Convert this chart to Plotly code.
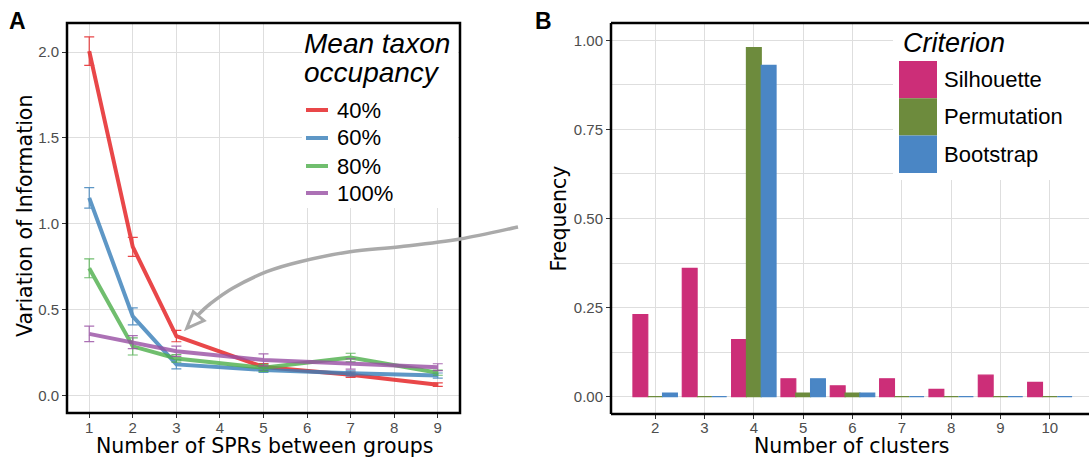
import plotly.graph_objects as go

W, H = 1089, 458

# ---------------- Panel A data ----------------
spr = [1, 2, 3, 5, 7, 9]
occupancy = ["40%", "60%", "80%", "100%"]
vi_40 = [2.005, 0.865, 0.345, 0.165, 0.12, 0.062]
err_40 = [0.083, 0.055, 0.033, 0.02, 0.015, 0.01]
vi_60 = [1.15, 0.46, 0.18, 0.148, 0.128, 0.115]
err_60 = [0.06, 0.05, 0.026, 0.015, 0.015, 0.015]
vi_80 = [0.74, 0.285, 0.215, 0.16, 0.22, 0.132]
err_80 = [0.055, 0.05, 0.022, 0.02, 0.025, 0.015]
vi_100 = [0.358, 0.31, 0.257, 0.206, 0.183, 0.164]
err_100 = [0.045, 0.038, 0.03, 0.035, 0.03, 0.02]
occ_colors = ["#E41A1C", "#377EB8", "#4DAF4A", "#984EA3"]
a_xticks = [1, 2, 3, 4, 5, 6, 7, 8, 9]
a_yticks = [0, 0.5, 1.0, 1.5, 2.0]
a_yticktext = ["0.0", "0.5", "1.0", "1.5", "2.0"]

# ---------------- Panel B data ----------------
clusters = [2, 3, 4, 5, 6, 7, 8, 9, 10]
criteria = ["Silhouette", "Permutation", "Bootstrap"]
silhouette = [0.23, 0.36, 0.16, 0.05, 0.03, 0.05, 0.02, 0.06, 0.04]
permutation = [0.0, 0.0, 0.98, 0.01, 0.01, 0.0, 0.0, 0.0, 0.0]
bootstrap = [0.01, 0.0, 0.93, 0.05, 0.01, 0.0, 0.0, 0.0, 0.0]
crit_colors = ["#CC2E78", "#6D8B3D", "#4A86C5"]
b_yticks = [0, 0.25, 0.5, 0.75, 1.0]
b_yticktext = ["0.00", "0.25", "0.50", "0.75", "1.00"]
b_minor = [0.125, 0.375, 0.625, 0.875]


def px(x):
    return x / W


def py(y):
    return 1 - y / H


GRID = "#DEDEDE"
TICKFONT = dict(family="Liberation Sans", size=15, color="#4D4D4D")
TITLEFONT = dict(family="DejaVu Sans", size=20.5, color="#000000")
LEGFONT = dict(family="Liberation Sans", size=22, color="#000000")
LEGTITLE = dict(family="Liberation Sans", size=27, color="#000000", style="italic")

fig = go.Figure()

series_a = [vi_40, vi_60, vi_80, vi_100]
errs_a = [err_40, err_60, err_80, err_100]
for name, vals, errs, col in zip(occupancy, series_a, errs_a, occ_colors):
    fig.add_trace(go.Scatter(
        x=spr, y=vals, mode="lines", name=name, opacity=0.8,
        line=dict(color=col, width=4),
        error_y=dict(type="data", array=errs, visible=True, color=col, thickness=1.2, width=5),
        showlegend=False, xaxis="x", yaxis="y"))

series_b = [silhouette, permutation, bootstrap]
for name, vals, col in zip(criteria, series_b, crit_colors):
    fig.add_trace(go.Bar(
        x=clusters, y=vals, name=name,
        marker=dict(color=col, line=dict(color=col, width=1.2)),
        showlegend=False, xaxis="x2", yaxis="y2"))

axis_common = dict(showgrid=True, gridcolor=GRID, gridwidth=1, zeroline=False,
                   ticks="outside", ticklen=4, tickcolor="#333333", tickwidth=1,
                   tickfont=TICKFONT, showline=False)

fig.update_layout(
    width=W, height=H,
    margin=dict(l=0, r=0, t=0, b=0),
    paper_bgcolor="white", plot_bgcolor="white",
    barmode="group", bargap=0.1, bargroupgap=0.0,
    xaxis=dict(domain=[px(67), px(460)], range=[0.49, 9.51], tickvals=a_xticks,
               anchor="y", ticklabelstandoff=-3, **axis_common),
    yaxis=dict(domain=[py(413), py(23)], range=[-0.103, 2.169], tickvals=a_yticks,
               ticktext=a_yticktext, anchor="x", **axis_common),
    xaxis2=dict(domain=[px(611), 1.0], range=[1.105, 10.793], tickvals=clusters,
                anchor="y2", ticklabelstandoff=-4, **axis_common),
    yaxis2=dict(domain=[py(414), py(23)], range=[-0.049, 1.049], tickvals=b_yticks,
                ticktext=b_yticktext, anchor="x2",
                minor=dict(tickvals=b_minor, showgrid=True, gridcolor=GRID, ticks=""),
                **axis_common),
)

shapes = []
# legend backgrounds
shapes.append(dict(type="rect", xref="paper", yref="paper", x0=px(302), x1=px(458),
                   y0=py(208), y1=py(23), fillcolor="white", line=dict(width=0), layer="above"))
shapes.append(dict(type="rect", xref="paper", yref="paper", x0=px(893), x1=px(1089),
                   y0=py(180), y1=py(23), fillcolor="white", line=dict(width=0), layer="above"))
# panel frames
shapes.append(dict(type="rect", xref="paper", yref="paper", x0=px(67), x1=px(460),
                   y0=py(413), y1=py(23), line=dict(color="black", width=2.5), layer="above"))
for (x0, y0, x1, y1) in [(611, 23, 611, 414), (611, 23, 1089, 23), (611, 414, 1089, 414)]:
    shapes.append(dict(type="line", xref="paper", yref="paper", x0=px(x0), x1=px(x1),
                       y0=py(y0), y1=py(y1), line=dict(color="black", width=2.5), layer="above"))

# curved arrow (Catmull-Rom through guide points)
pts = [(518, 227), (460, 239), (400, 246.7), (350, 251.7), (300, 261.7),
       (266.7, 271.7), (233, 288), (210, 304), (197, 316)]
ext = [pts[0]] + pts + [pts[-1]]
path = "M %.5f,%.5f" % (px(pts[0][0]), py(pts[0][1]))
for i in range(1, len(ext) - 2):
    p0, p1, p2, p3 = ext[i - 1], ext[i], ext[i + 1], ext[i + 2]
    c1 = (p1[0] + (p2[0] - p0[0]) / 6, p1[1] + (p2[1] - p0[1]) / 6)
    c2 = (p2[0] - (p3[0] - p1[0]) / 6, p2[1] - (p3[1] - p1[1]) / 6)
    path += " C %.5f,%.5f %.5f,%.5f %.5f,%.5f" % (px(c1[0]), py(c1[1]), px(c2[0]), py(c2[1]),
                                                  px(p2[0]), py(p2[1]))
shapes.append(dict(type="path", xref="paper", yref="paper", path=path,
                   line=dict(color="#AAAAAA", width=3.5), layer="above"))
head = [(186.7, 328.3), (193.3, 311.7), (204, 320.7)]
hp = "M %.5f,%.5f L %.5f,%.5f L %.5f,%.5f Z" % (px(head[0][0]), py(head[0][1]),
                                                 px(head[1][0]), py(head[1][1]),
                                                 px(head[2][0]), py(head[2][1]))
shapes.append(dict(type="path", xref="paper", yref="paper", path=hp, fillcolor="white",
                   line=dict(color="#AAAAAA", width=3), layer="above"))

annotations = []
# panel A legend
LEGTITLE_A = dict(LEGTITLE, size=28)
annotations.append(dict(text="Mean taxon", x=px(302), y=py(43), xref="paper", yref="paper",
                        xanchor="left", yanchor="middle", showarrow=False, font=LEGTITLE_A))
annotations.append(dict(text="occupancy", x=px(302), y=py(73), xref="paper", yref="paper",
                        xanchor="left", yanchor="middle", showarrow=False, font=LEGTITLE_A))
leg_a_y = [110, 138, 166, 193]
for name, col, yy in zip(occupancy, occ_colors, leg_a_y):
    shapes.append(dict(type="line", xref="paper", yref="paper", x0=px(306), x1=px(328),
                       y0=py(yy), y1=py(yy), opacity=0.8, line=dict(color=col, width=4),
                       layer="above"))
    annotations.append(dict(text=name, x=px(335), y=py(yy), xref="paper", yref="paper",
                            xanchor="left", yanchor="middle", showarrow=False, font=LEGFONT))

# panel B legend
annotations.append(dict(text="Criterion", x=px(901), y=py(43), xref="paper", yref="paper",
                        xanchor="left", yanchor="middle", showarrow=False, font=LEGTITLE))
key_top = 61
key_h = 37.3
for i, (name, col) in enumerate(zip(criteria, crit_colors)):
    y0 = key_top + i * key_h
    shapes.append(dict(type="rect", xref="paper", yref="paper", x0=px(899), x1=px(937),
                       y0=py(y0 + key_h), y1=py(y0), fillcolor=col, line=dict(width=0),
                       layer="above"))
    annotations.append(dict(text=name, x=px(942), y=py(y0 + key_h / 2), xref="paper",
                            yref="paper", xanchor="left", yanchor="middle", showarrow=False,
                            font=LEGFONT))

# axis titles
annotations.append(dict(text="Variation of Information", x=px(25), y=py(216), xref="paper",
                        yref="paper", textangle=-90, showarrow=False, font=TITLEFONT,
                        xanchor="center", yanchor="middle"))
annotations.append(dict(text="Number of SPRs between groups", x=px(264), y=py(446),
                        xref="paper", yref="paper", showarrow=False, font=TITLEFONT,
                        xanchor="center", yanchor="middle"))
annotations.append(dict(text="Frequency", x=px(558), y=py(218.5), xref="paper",
                        yref="paper", textangle=-90, showarrow=False, font=TITLEFONT,
                        xanchor="center", yanchor="middle"))
annotations.append(dict(text="Number of clusters", x=px(852), y=py(446), xref="paper",
                        yref="paper", showarrow=False, font=TITLEFONT,
                        xanchor="center", yanchor="middle"))
# panel letters
annotations.append(dict(text="<b>A</b>", x=px(7), y=py(21), xref="paper", yref="paper",
                        xanchor="left", yanchor="middle", showarrow=False,
                        font=dict(family="Liberation Sans", size=23, color="black")))
annotations.append(dict(text="<b>B</b>", x=px(533), y=py(21), xref="paper", yref="paper",
                        xanchor="left", yanchor="middle", showarrow=False,
                        font=dict(family="Liberation Sans", size=23, color="black")))

fig.update_layout(shapes=shapes, annotations=annotations)
fig.write_html("out.html", config={"displayModeBar": False},
               post_script="document.body.style.margin='0';document.body.style.overflow='hidden';")
